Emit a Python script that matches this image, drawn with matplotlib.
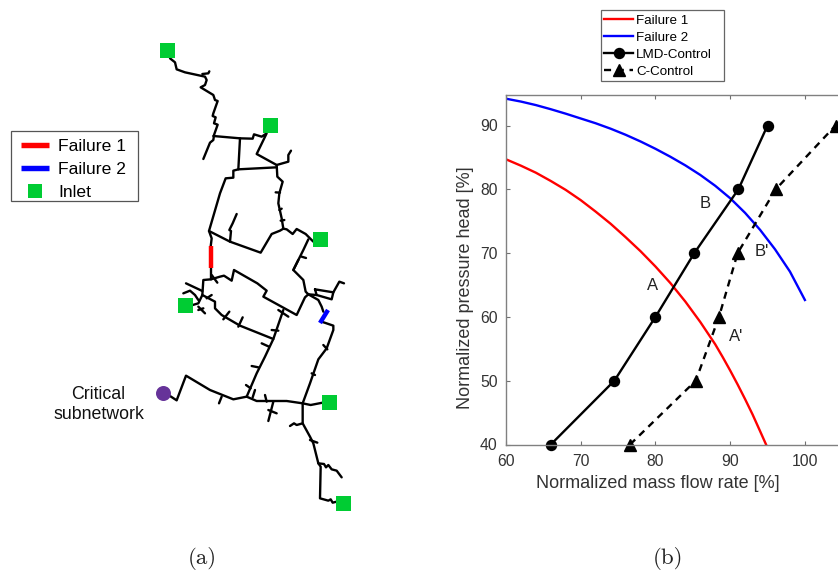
import matplotlib
matplotlib.use('Agg')
import matplotlib.pyplot as plt
from matplotlib.lines import Line2D
from matplotlib.patches import Rectangle

W, H = 838, 571
plt.rcParams['font.family'] = ['Liberation Sans', 'DejaVu Sans']

# Operating curves
failure1_x = [60, 62, 64, 66, 68, 70, 72, 74, 76, 78, 80, 82, 84, 86, 88, 89, 90, 91, 92, 93, 94, 94.8]
failure1_y = [84.7, 83.7, 82.6, 81.3, 79.9, 78.3, 76.5, 74.6, 72.5, 70.3, 67.9, 65.3, 62.4, 59.2, 55.7, 53.7, 51.6, 49.4, 47.1, 44.7, 42.1, 40.0]
failure2_x = [60, 62, 64, 66, 68, 70, 72, 74, 76, 78, 80, 82, 84, 86, 88, 90, 92, 94, 96, 98, 100]
failure2_y = [94.2, 93.75, 93.2, 92.55, 91.85, 91.1, 90.35, 89.5, 88.55, 87.5, 86.35, 85.1, 83.75, 82.25, 80.55, 78.6, 76.3, 73.65, 70.6, 67.1, 62.65]
lmd_x = [66, 74.5, 80, 85.2, 91.1, 95]
lmd_y = [40, 50, 60, 70, 80, 90]
cctl_x = [76.6, 85.4, 88.5, 91, 96.1, 104.1]
cctl_y = [40, 50, 60, 70, 80, 90]
point_labels = ['A', 'B', "A'", "B'"]
point_x = [79.6, 86.7, 90.8, 94.2]
point_y = [65.0, 77.8, 56.9, 70.3]

# Network pipes
net_upper = [
    [(90,85),(105,97),(110,118),(135,127),(195,140),(200,150),(195,165),(182,172),(220,195),(225,210),(233,213),(220,250),(218,258),(227,262),(222,280),(233,284),(222,315),(220,330),(210,338),(190,387)],
    [(187,132),(205,130),(208,124)],
    [(220,318),(300,325),(338,326),(342,313),(365,320),(380,310),(350,372),(410,405),(445,395),(445,375),(453,362)],
    [(300,325),(295,418),(410,412)],
    [(295,418),(280,422),(280,443),(257,445),(240,490),(207,603),(215,625),(212,650)],
    [(207,603),(270,635),(362,668),(395,612),(420,602),(430,596),(425,565),(415,520),(418,490),(428,455),(412,440),(410,405)],
    [(270,635),(273,603),(268,600),(278,580),(290,552)],
    [(430,596),(440,598),(458,612),(470,597),(497,612),(520,635)],
    [(505,628),(490,660),(460,720)],
    [(485,680),(498,684)],
    [(407,487),(420,488)],
    [(418,540),(425,536)],
    [(422,572),(433,570)],
]
net_lower = [
    [(213,20),(213,58),(190,60),(187,105),(175,130),(158,135)],
    [(213,58),(240,50),(252,47),(275,62),(282,30),(352,70),(380,92),(370,110),(470,165),(495,112),(505,103),(497,95),(490,60),(460,30),(475,0)],
    [(187,105),(225,125),(225,145),(245,165),(300,197),(345,215),(400,237)],
    [(430,150),(400,237),(375,290),(350,340),(320,410),(350,423),(440,423),(488,430),(512,435),(548,428)],
    [(488,430),(510,370),(535,298),(560,265),(580,210),(580,197),(545,185)],
    [(505,103),(535,120),(545,140),(550,155)],
    [(525,88),(580,97),(575,118),(530,105),(525,88)],
    [(505,103),(530,105)],
    [(580,97),(598,65),(612,70)],
    [(320,410),(280,418),(210,390),(138,347),(110,421),(90,408)],
    [(488,430),(488,490),(510,530),(520,550),(530,590),(535,610),(542,620),(540,715),(565,722),(572,718),(578,728),(590,725)],
    [(535,610),(552,612),(558,622),(565,615),(575,628),(590,632),(605,652)],
    [(450,498),(462,490),(470,495),(488,490)],
    [(400,425),(385,483)],
    [(385,450),(410,460)],
    [(237,430),(245,410)],
    [(380,425),(375,405)],
    [(338,412),(345,390)],
    [(318,375),(332,385)],
    [(335,318),(355,322)],
    [(365,250),(387,260)],
    [(395,210),(415,212)],
    [(415,150),(445,170)],
    [(250,178),(268,155)],
    [(295,200),(308,172)],
    [(138,70),(187,93)],
    [(130,100),(150,92),(165,105),(175,120)],
    [(175,140),(195,160)],
    [(175,150),(190,145)],
    [(510,540),(532,548)],
    [(550,255),(562,268)],
    [(515,340),(525,345)],
    [(215,45),(232,68)],
    [(200,115),(215,105)],
]
failure1_pipe = [(211, 246), (211, 268)]
failure2_pipe = [(320, 323), (328, 310)]
inlets_x = [167, 270, 320, 185, 329, 343]
inlets_y = [50, 125, 239, 305, 402, 503]
critical_x = [163]
critical_y = [393]

fig = plt.figure(figsize=(W / 100, H / 100), dpi=100)

# --- map panel, in picture pixels ---
mp = fig.add_axes([0, 0, 1, 1])
mp.set_xlim(0, W)
mp.set_ylim(H, 0)
mp.axis('off')
NET = dict(color='black', lw=1.7, solid_capstyle='round', solid_joinstyle='round', zorder=2)
for path in net_upper:
    mp.plot([140 + p[0] / 3 for p in path], [30 + p[1] / 3 for p in path], **NET)
for path in net_lower:
    mp.plot([140 + p[0] / 3 for p in path], [260 + p[1] / 3 for p in path], **NET)
mp.plot(*zip(*failure1_pipe), color='#ff0000', lw=3.2, solid_capstyle='butt', zorder=3)
mp.plot(*zip(*failure2_pipe), color='#0000ff', lw=3.2, solid_capstyle='butt', zorder=3)
mp.plot(inlets_x, inlets_y, ls='none', marker='s', ms=10.8, color='#00cc33', mew=0, zorder=4)
mp.plot(critical_x, critical_y, ls='none', marker='o', ms=10.8, color='#663399', mew=0, zorder=4)
mp.text(144, 404.5, 'Critical\nsubnetwork', ha='right', va='center', fontsize=12.8,
        multialignment='center', color='#111111', linespacing=1.17)
mp.text(202, 558, '(a)', ha='center', va='center', fontsize=16.5, family='cmr10', color='#222222')
mp.text(668, 558, '(b)', ha='center', va='center', fontsize=16.5, family='cmr10', color='#222222')

# legend frames, exact size
mp.add_patch(Rectangle((10.5, 131), 127.5, 70, fc='white', ec='#555555', lw=0.9, zorder=5))
mp.add_patch(Rectangle((600.5, 9.5), 123, 71, fc='white', ec='#666666', lw=0.9, zorder=5))

left_handles = [
    Line2D([], [], color='#ff0000', lw=3.9, solid_capstyle='butt'),
    Line2D([], [], color='#0000ff', lw=3.9, solid_capstyle='butt'),
    Line2D([], [], ls='none', marker='s', ms=10.3, color='#00cc33', mew=0),
]
lg = mp.legend(left_handles, ['Failure 1', 'Failure 2', 'Inlet'], loc='upper left',
               bbox_to_anchor=(20.7 / W, 1 - 138.5 / H), bbox_transform=fig.transFigure,
               fontsize=12.6, frameon=False, borderpad=0, labelspacing=0.44, handlelength=1.63,
               handletextpad=0.5, borderaxespad=0)
lg.set_zorder(6)

# --- curve panel ---
x0, x1, y0, y1 = 506, 838, 94.5, 444.5
ax = fig.add_axes([x0 / W, 1 - y1 / H, (x1 - x0) / W, (y1 - y0) / H])
ax.patch.set_alpha(0)
ax.set_xlim(60, 60 + (x1 - x0) / 7.4725)
ax.set_ylim(40, 40 + (y1 - y0) / 6.38)
l1, = ax.plot(failure1_x, failure1_y, color='#ff0000', lw=1.7, label='Failure 1')
l2, = ax.plot(failure2_x, failure2_y, color='#0000ff', lw=1.7, label='Failure 2')
l3, = ax.plot(lmd_x, lmd_y, color='black', lw=1.7, marker='o', ms=7.2, clip_on=False, label='LMD-Control')
l4, = ax.plot(cctl_x, cctl_y, color='black', lw=1.7, ls=(0, (3, 2.4)), marker='^', ms=8.3,
              clip_on=False, label='C-Control')
for s, px, py in zip(point_labels, point_x, point_y):
    ax.text(px, py, s, ha='center', va='center', fontsize=12, color='#222222')
ax.set_xticks([60, 70, 80, 90, 100])
ax.set_yticks([40, 50, 60, 70, 80, 90])
ax.tick_params(direction='in', top=True, right=False, length=3, width=0.8,
               labelsize=11.3, color='#707070', labelcolor='#333333')
ax.tick_params(axis='x', pad=7)
ax.tick_params(axis='y', pad=6)
for sp in ax.spines.values():
    sp.set_linewidth(1.0)
    sp.set_color('#808080')
ax.spines['right'].set_visible(False)
ax.set_xlabel('Normalized mass flow rate [%]', fontsize=13, color='#333333', va='center')
ax.xaxis.set_label_coords((658 - x0) / (x1 - x0), (y1 - 483) / (y1 - y0))
ax.set_ylabel('Normalized pressure head [%]', fontsize=13, color='#333333', va='center')
ax.yaxis.set_label_coords((465 - x0) / (x1 - x0), (y1 - 288) / (y1 - y0))

lg2 = mp.legend([l1, l2, l3, l4], ['Failure 1', 'Failure 2', 'LMD-Control', 'C-Control'],
                loc='upper left', bbox_to_anchor=(604.3 / W, 1 - 14.8 / H),
                bbox_transform=fig.transFigure, fontsize=9.6, frameon=False, borderpad=0,
                labelspacing=0.35, handlelength=2.18, handletextpad=0.22, borderaxespad=0)
lg2.set_zorder(6)
mp.add_artist(lg)
mp.set_zorder(3)
ax.set_zorder(2)

fig.savefig('out.png', dpi=100)
